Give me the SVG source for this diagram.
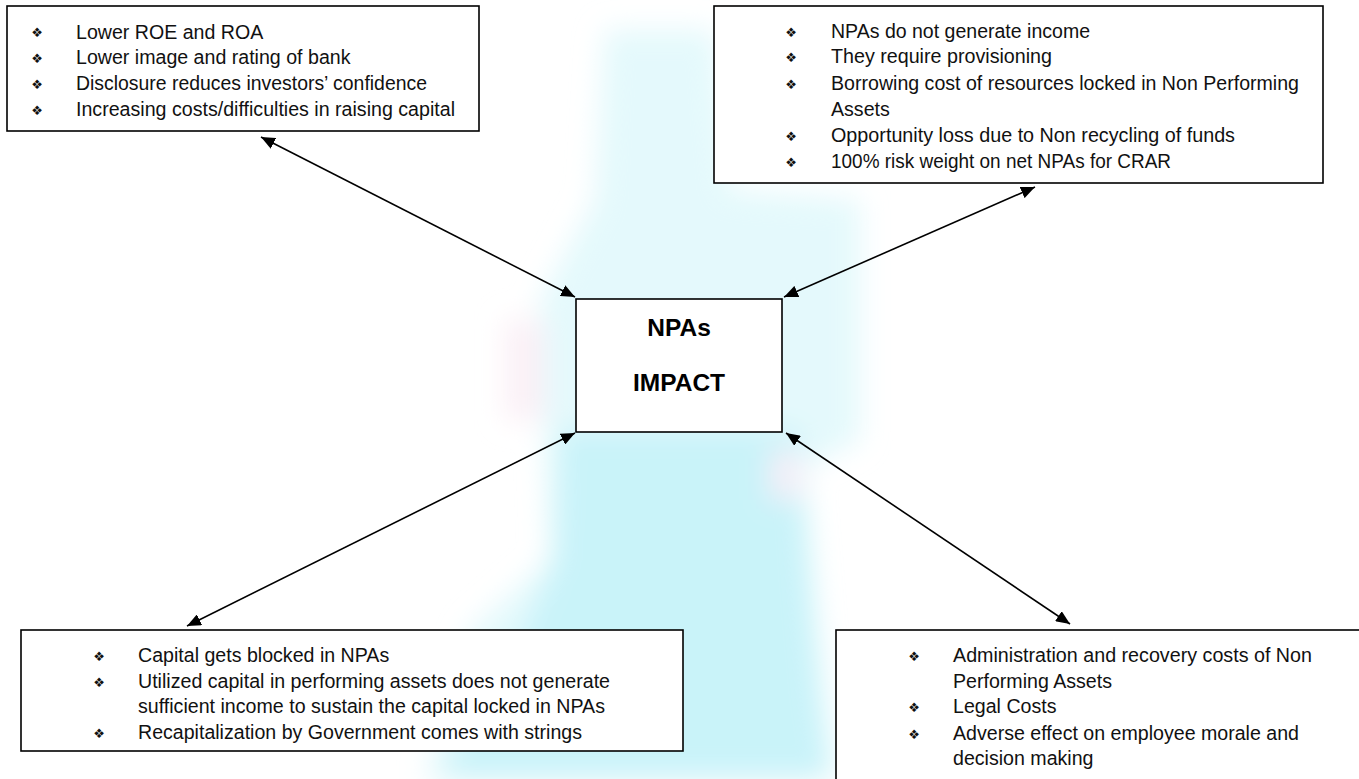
<svg xmlns="http://www.w3.org/2000/svg" width="1359" height="779" viewBox="0 0 1359 779">
<style>
.box{fill:#fff;stroke:#000;stroke-width:1.6}
.t{font-family:"Liberation Sans",Arial,sans-serif;font-size:19.6px;fill:#111}
.b{font-family:"DejaVu Sans",sans-serif;font-size:13px;fill:#111;text-anchor:middle}
.h{font-family:"Liberation Sans",Arial,sans-serif;font-size:24.5px;font-weight:bold;fill:#000;text-anchor:middle}
.c{stroke:#000;stroke-width:1.6;fill:none;marker-start:url(#ah);marker-end:url(#ah)}
</style>
<defs>
<marker id="ah" viewBox="0 0 14 12" refX="14" refY="6" markerWidth="14" markerHeight="12" markerUnits="userSpaceOnUse" orient="auto-start-reverse">
<path d="M0,0 L14,6 L0,12 z" fill="#000"/>
</marker>
<filter id="blur" x="-30%" y="-30%" width="160%" height="160%"><feGaussianBlur stdDeviation="14"/></filter>
<clipPath id="clipBL"><rect x="21" y="630" width="662" height="113"/></clipPath>
</defs>
<rect width="1359" height="779" fill="#fff"/>
<g id="watermark" filter="url(#blur)">
<path d="M605,30 L715,30 L730,190 L860,200 L860,440 L800,470 L810,620 L835,779 L425,779 L470,630 L550,560 L540,300 L595,200 Z" fill="#e4f9fc"/>
<path d="M560,430 L800,430 L815,620 L830,779 L440,779 L520,640 L555,560 Z" fill="#c9f3f9"/>
<path d="M505,320 L545,320 L545,420 L505,420 Z" fill="#fbf0f6"/>
<path d="M770,450 L800,450 L800,500 L770,500 Z" fill="#f6eef7"/>
</g>
<g id="connectors">
<line class="c" x1="261" y1="137" x2="575" y2="297"/>
<line class="c" x1="1035" y1="187" x2="784" y2="297"/>
<line class="c" x1="575" y1="433" x2="187" y2="626"/>
<line class="c" x1="786" y1="433" x2="1070" y2="624"/>
</g>
<g id="node-tl">
<rect class="box" x="7" y="6" width="472" height="125"/>
<text class="b" x="37" y="37">❖</text><text class="t" x="76" y="38.5">Lower ROE and ROA</text>
<text class="b" x="37" y="63">❖</text><text class="t" x="76" y="64">Lower image and rating of bank</text>
<text class="b" x="37" y="89">❖</text><text class="t" x="76" y="90" textLength="351" lengthAdjust="spacingAndGlyphs">Disclosure reduces investors’ confidence</text>
<text class="b" x="37" y="115">❖</text><text class="t" x="76" y="116" textLength="379" lengthAdjust="spacingAndGlyphs">Increasing costs/difficulties in raising capital</text>
</g>
<g id="node-tr">
<rect class="box" x="714" y="6" width="609" height="177"/>
<text class="b" x="791" y="37">❖</text><text class="t" x="831" y="38" textLength="259" lengthAdjust="spacingAndGlyphs">NPAs do not generate income</text>
<text class="b" x="791" y="62">❖</text><text class="t" x="831" y="63" textLength="221" lengthAdjust="spacingAndGlyphs">They require provisioning</text>
<text class="b" x="791" y="89">❖</text><text class="t" x="831" y="90" textLength="468" lengthAdjust="spacingAndGlyphs">Borrowing cost of resources locked in Non Performing</text>
<text class="t" x="831" y="116">Assets</text>
<text class="b" x="791" y="141">❖</text><text class="t" x="831" y="142" textLength="404" lengthAdjust="spacingAndGlyphs">Opportunity loss due to Non recycling of funds</text>
<text class="b" x="791" y="167">❖</text><text class="t" x="831" y="168" textLength="340" lengthAdjust="spacingAndGlyphs">100% risk weight on net NPAs for CRAR</text>
</g>
<g id="node-center">
<rect class="box" x="576" y="299" width="206" height="133"/>
<text class="h" x="679" y="336">NPAs</text>
<text class="h" x="679" y="391">IMPACT</text>
</g>
<g id="node-bl">
<rect class="box" x="21" y="630" width="662" height="121"/>
<g clip-path="url(#clipBL)">
<text class="b" x="99" y="661">❖</text><text class="t" x="138" y="662">Capital gets blocked in NPAs</text>
<text class="b" x="99" y="687">❖</text><text class="t" x="138" y="688" textLength="472" lengthAdjust="spacingAndGlyphs">Utilized capital in performing assets does not generate</text>
<text class="t" x="138" y="713" textLength="467" lengthAdjust="spacingAndGlyphs">sufficient income to sustain the capital locked in NPAs</text>
<text class="b" x="99" y="738">❖</text><text class="t" x="138" y="739" textLength="444" lengthAdjust="spacingAndGlyphs">Recapitalization by Government comes with strings</text>
</g>
</g>
<g id="node-br">
<rect class="box" x="836" y="630" width="540" height="170"/>
<text class="b" x="914" y="661">❖</text><text class="t" x="953" y="662" textLength="359" lengthAdjust="spacingAndGlyphs">Administration and recovery costs of Non</text>
<text class="t" x="953" y="688">Performing Assets</text>
<text class="b" x="914" y="712">❖</text><text class="t" x="953" y="713">Legal Costs</text>
<text class="b" x="914" y="739">❖</text><text class="t" x="953" y="740">Adverse effect on employee morale and</text>
<text class="t" x="953" y="765">decision making</text>
</g>
</svg>
